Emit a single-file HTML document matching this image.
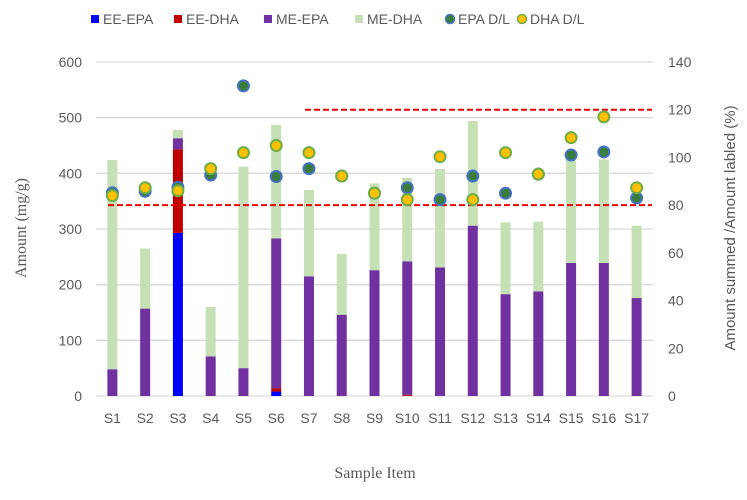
<!DOCTYPE html>
<html><head><meta charset="utf-8"><style>
body{margin:0;background:#fff;}
svg text{font-family:"Liberation Sans",sans-serif;}
</style></head><body>
<svg id="chart" width="747" height="495" xmlns="http://www.w3.org/2000/svg">
<g id="grid"></g>
<g id="bars"></g>
<g id="refs">
<line x1="108" x2="652" y1="205.1" y2="205.1" stroke="#e00" stroke-width="2" stroke-dasharray="6,3"/>
<line x1="305" x2="652" y1="109.7" y2="109.7" stroke="#e00" stroke-width="2" stroke-dasharray="6,3"/>
</g>
<g id="pts"></g>
<g id="axes"></g>
<g font-size="14" fill="#595959">
<rect x="91" y="15" width="8" height="8" fill="#0000ff"/><text x="103" y="24" fill="#595959" font-size="14">EE-EPA</text>
<rect x="174" y="15" width="8" height="8" fill="#c00000"/><text x="186" y="24" fill="#595959" font-size="14">EE-DHA</text>
<rect x="264" y="15" width="8" height="8" fill="#7030a0"/><text x="276" y="24" fill="#595959" font-size="14">ME-EPA</text>
<rect x="355" y="15" width="8" height="8" fill="#c5e0b4"/><text x="367" y="24" fill="#595959" font-size="14">ME-DHA</text>
<circle cx="450" cy="19" r="4.5" fill="#3a7d3a" stroke="#4472c4" stroke-width="1.5"/><text x="458" y="24" fill="#595959" font-size="14">EPA D/L</text>
<circle cx="522" cy="19" r="4.5" fill="#ffc000" stroke="#70ad47" stroke-width="1.5"/><text x="530" y="24" fill="#595959" font-size="14">DHA D/L</text>
</g>
<text transform="translate(26,228) rotate(-90)" text-anchor="middle" font-size="16" fill="#595959" style="font-family:'Liberation Serif',serif">Amount (mg/g)</text>
<text transform="translate(735,228) rotate(-90)" text-anchor="middle" font-size="15" fill="#595959">Amount summed /Amount labled (%)</text>
<text x="375" y="478" text-anchor="middle" font-size="16" fill="#595959" style="font-family:'Liberation Serif',serif">Sample Item</text>
</svg>
<script>
const categories=["S1","S2","S3","S4","S5","S6","S7","S8","S9","S10","S11","S12","S13","S14","S15","S16","S17"];
const eeEpa=[0,0,293,0,0,8,0,0,0,0,0,0,0,0,0,0,0];
const eeDha=[0,0,150,0,0,6,0,0,0,2,0,0,0,0,0,0,0];
const meEpa=[48,157,20,71,50,269,215,146,226,240,231,306,183,188,239,239,176];
const meDha=[376,108,15,89,362,204,155,109,156,150,177,188,129,125,197,186,130];
const epaDL=[85.2,85.8,87.5,92.6,130,92,95.3,92.2,85,87.3,82.3,92.2,85,93,101,102.3,83];
const dhaDL=[84,87.3,86,95.3,102,105,102,92.2,85,82.3,100.3,82.3,102,93,108.3,117,87.3];
const leftTicks=[0,100,200,300,400,500,600];
const rightTicks=[0,20,40,60,80,100,120,140];
const NS="http://www.w3.org/2000/svg";
const x0=96,x1=653,yb=396,yt=62;
const band=(x1-x0)/categories.length;
const xC=i=>x0+band*(i+0.5);
const yL=v=>yb-(v/600)*(yb-yt);
const yR=v=>yb-(v/140)*(yb-yt);
function mk(tag,attrs,parent){const e=document.createElementNS(NS,tag);for(const k in attrs)e.setAttribute(k,attrs[k]);parent.appendChild(e);return e;}
const grid=document.getElementById('grid'),bars=document.getElementById('bars'),pts=document.getElementById('pts'),axes=document.getElementById('axes');
leftTicks.forEach(t=>{
  const l=mk('line',{x1:x0,x2:x1,y1:yL(t),y2:yL(t),stroke:'#d9d9d9','stroke-width':1.3},grid);
  
  
  const tx=mk('text',{x:82,y:yL(t)+5,'text-anchor':'end','font-size':14,fill:'#595959'},axes);
  tx.textContent=t;
  
  
});
rightTicks.forEach(t=>{
  const tx=mk('text',{x:668,y:yR(t)+5,'font-size':14,fill:'#595959'},axes);
  tx.textContent=t;
  
  
});
const series=[[eeEpa,'#0000ff','ee-epa'],[eeDha,'#c00000','ee-dha'],[meEpa,'#7030a0','me-epa'],[meDha,'#c5e0b4','me-dha']];
const bw=10;
categories.forEach((c,i)=>{
  let acc=0;
  series.forEach(([arr,col,nm])=>{
    const v=arr[i];if(v<=0)return;
    const r=mk('rect',{x:xC(i)-bw/2,y:yL(acc+v),width:bw,height:yL(acc)-yL(acc+v),fill:col},bars);
    
    
    acc+=v;
  });
  const tx=mk('text',{x:xC(i),y:423,'text-anchor':'middle','font-size':14,fill:'#595959'},axes);
  tx.textContent=c;
  
  
});
categories.forEach((c,i)=>{
  const a=mk('circle',{cx:xC(i),cy:yR(epaDL[i]),r:5.5,fill:'#3a7d3a',stroke:'#4472c4','stroke-width':2},pts);
  
  
});
categories.forEach((c,i)=>{
  const b=mk('circle',{cx:xC(i),cy:yR(dhaDL[i]),r:5.5,fill:'#ffc000',stroke:'#70ad47','stroke-width':2},pts);
  
  
});
</script>
</body></html>
